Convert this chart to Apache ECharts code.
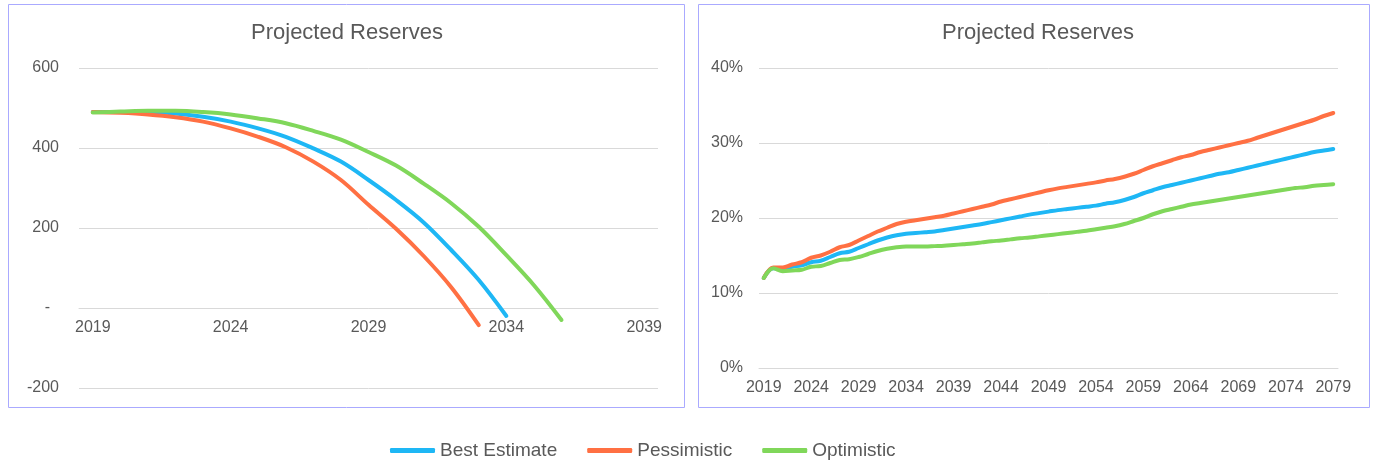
<!DOCTYPE html>
<html>
<head>
<meta charset="utf-8">
<script src="https://cdn.jsdelivr.net/npm/echarts@6/dist/echarts.min.js"></script>
<style>
html,body{margin:0;padding:0;background:#fff;}
#chart{width:1377px;height:463px;}
</style>
</head>
<body>
<div id="chart"></div>
<script>
// ---- Data ----
var titleText = 'Projected Reserves';
var seriesNames = ['Best Estimate', 'Pessimistic', 'Optimistic'];

// Left chart: years 2019-2039, reserves (amount)
var leftYears = [];
for (var y = 2019; y <= 2039; y++) leftYears.push(String(y));
var leftBest = [490, 490, 490, 486, 478, 466, 449, 428, 399, 366, 320, 270, 214, 145, 70, -20, null, null, null, null, null];
var leftPess = [490, 488, 484, 477, 466, 449, 428, 402, 366, 320, 258, 198, 130, 52, -43, null, null, null, null, null, null];
var leftOpt  = [489, 491, 493, 493, 490, 484, 474, 462, 443, 421, 390, 356, 311, 262, 203, 132, 57, -30, null, null, null];

// Right chart: years 2019-2079, reserves as %
var rightYears = [];
for (var y2 = 2019; y2 <= 2079; y2++) rightYears.push(String(y2));
var rightBest = [12.0, 13.3, 13.2, 13.5, 13.7, 14.1, 14.3, 14.8, 15.3, 15.5,
                 16.0, 16.5, 17.0, 17.4, 17.7, 17.9, 18.0, 18.1, 18.2, 18.4,
                 18.6, 18.8, 19.0, 19.2, 19.45, 19.7, 19.95, 20.2, 20.45, 20.65,
                 20.85, 21.05, 21.2, 21.35, 21.5, 21.65, 21.9, 22.1, 22.4, 22.8,
                 23.3, 23.7, 24.1, 24.4, 24.7, 25.0, 25.3, 25.6, 25.9, 26.1,
                 26.4, 26.7, 27.0, 27.3, 27.6, 27.9, 28.2, 28.5, 28.8, 29.0, 29.2];
var rightPess = [12.0, 13.4, 13.4, 13.8, 14.1, 14.7, 15.0, 15.5, 16.1, 16.4,
                 17.0, 17.6, 18.2, 18.7, 19.2, 19.5, 19.7, 19.9, 20.1, 20.3,
                 20.6, 20.9, 21.2, 21.5, 21.8, 22.2, 22.5, 22.8, 23.1, 23.4,
                 23.7, 23.95, 24.15, 24.35, 24.55, 24.75, 25.0, 25.2, 25.5, 25.9,
                 26.4, 26.9, 27.3, 27.7, 28.1, 28.4, 28.8, 29.1, 29.4, 29.7,
                 30.0, 30.3, 30.7, 31.1, 31.5, 31.9, 32.3, 32.7, 33.1, 33.6, 34.0];
var rightOpt  = [12.0, 13.3, 12.9, 13.0, 13.1, 13.5, 13.6, 14.0, 14.4, 14.5,
                 14.8, 15.2, 15.6, 15.9, 16.1, 16.2, 16.2, 16.2, 16.25, 16.3,
                 16.4, 16.5, 16.6, 16.75, 16.9, 17.0, 17.15, 17.3, 17.4, 17.55,
                 17.7, 17.85, 18.0, 18.15, 18.3, 18.5, 18.7, 18.9, 19.2, 19.6,
                 20.0, 20.5, 20.9, 21.2, 21.5, 21.8, 22.0, 22.2, 22.4, 22.6,
                 22.8, 23.0, 23.2, 23.4, 23.6, 23.8, 24.0, 24.1, 24.3, 24.4, 24.5];

var leftTicks = [-200, 0, 200, 400, 600];
var rightTicks = [0, 10, 20, 30, 40];

// ---- Styles ----
var colors = ['#1EB7F5', '#FF7043', '#80D75A'];
var FONT = 'Liberation Sans, Arial, sans-serif';
var TXT = '#595959';
var GRIDC = '#d9d9d9';
var BORDER = '#AAAAFF';

function mkSeries(name, data, idx, color) {
  return {
    name: name, type: 'line', data: data,
    xAxisIndex: idx, yAxisIndex: idx,
    smooth: 0.35, symbol: 'none', connectNulls: false,
    lineStyle: { color: color, width: 4, cap: 'round', join: 'round' },
    itemStyle: { color: color },
    emphasis: { disabled: true },
    z: 2
  };
}

var chart = echarts.init(document.getElementById('chart'), null, { renderer: 'canvas' });
chart.setOption({
  animation: false,
  color: colors,
  textStyle: { fontFamily: FONT },
  graphic: [
    { type: 'rect', shape: { x: 8.5, y: 4.5, width: 676, height: 403 },
      style: { fill: 'none', stroke: BORDER, lineWidth: 1 }, z: -1 },
    { type: 'rect', shape: { x: 698.5, y: 4.5, width: 671, height: 403 },
      style: { fill: 'none', stroke: BORDER, lineWidth: 1 }, z: -1 }
  ],
  title: [
    { text: titleText, left: 342, top: 17, textAlign: 'center',
      textStyle: { fontFamily: FONT, fontSize: 22, fontWeight: 'normal', color: TXT } },
    { text: titleText, left: 1033, top: 17, textAlign: 'center',
      textStyle: { fontFamily: FONT, fontSize: 22, fontWeight: 'normal', color: TXT } }
  ],
  legend: {
    data: seriesNames,
    left: 385, top: 436,
    itemWidth: 45, itemHeight: 5, itemGap: 30,
    icon: 'roundRect',
    textStyle: { fontFamily: FONT, fontSize: 19, color: TXT }
  },
  grid: [
    { left: 79, top: 68, width: 579, height: 320, containLabel: false },
    { left: 759, top: 68, width: 579, height: 300, containLabel: false }
  ],
  xAxis: [
    { type: 'category', gridIndex: 0, data: leftYears, boundaryGap: true,
      position: 'bottom', offset: -80,
      axisLine: { show: true, onZero: false, lineStyle: { color: GRIDC } },
      axisTick: { show: false },
      axisLabel: { interval: 4, margin: 12, fontSize: 16, color: TXT, fontFamily: FONT },
      splitLine: { show: false } },
    { type: 'category', gridIndex: 1, data: rightYears, boundaryGap: true,
      axisLine: { show: true, onZero: false, lineStyle: { color: GRIDC } },
      axisTick: { show: false },
      axisLabel: { interval: 4, margin: 12, fontSize: 16, color: TXT, fontFamily: FONT },
      splitLine: { show: false } }
  ],
  yAxis: [
    { type: 'value', gridIndex: 0, min: leftTicks[0], max: leftTicks[leftTicks.length - 1], interval: 200,
      axisLine: { show: false }, axisTick: { show: false },
      axisLabel: { margin: 20, fontSize: 16, color: TXT, fontFamily: FONT,
        formatter: function (v) { return v === 0 ? '-  ' : String(v); } },
      splitLine: { lineStyle: { color: GRIDC, width: 1 } } },
    { type: 'value', gridIndex: 1, min: rightTicks[0], max: rightTicks[rightTicks.length - 1], interval: 10,
      axisLine: { show: false }, axisTick: { show: false },
      axisLabel: { margin: 16, fontSize: 16, color: TXT, fontFamily: FONT,
        formatter: function (v) { return v + '%'; } },
      splitLine: { lineStyle: { color: GRIDC, width: 1 } } }
  ],
  series: [
    mkSeries(seriesNames[0], leftBest, 0, colors[0]),
    mkSeries(seriesNames[1], leftPess, 0, colors[1]),
    mkSeries(seriesNames[2], leftOpt, 0, colors[2]),
    mkSeries(seriesNames[0], rightBest, 1, colors[0]),
    mkSeries(seriesNames[1], rightPess, 1, colors[1]),
    mkSeries(seriesNames[2], rightOpt, 1, colors[2])
  ]
});
</script>
</body>
</html>
